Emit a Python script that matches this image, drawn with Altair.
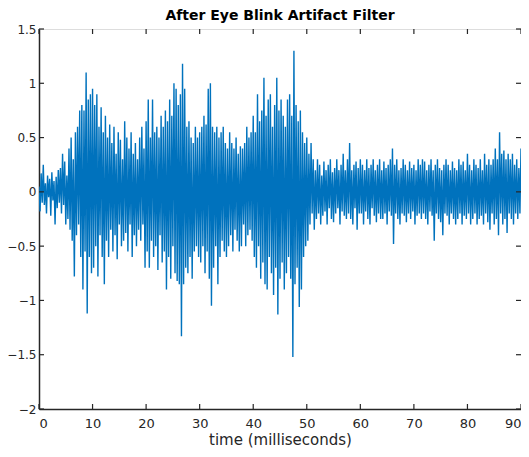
import altair as alt
import pandas as pd

# sample spacing of the recording (ms)
sample_step_ms = 0.2

# signal values, one row per 2 ms block
seg_00_10 = [
    0.05, -0.18, 0.17, -0.10, 0.25, -0.12, 0.08, -0.20, 0.15, -0.05,
    0.12, -0.22, 0.18, -0.08, 0.10, -0.30, 0.14, -0.15, 0.20, -0.10,
    0.22, -0.20, 0.35, -0.12, 0.28, -0.30, 0.15, -0.25, 0.40, -0.35,
    0.50, -0.45, 0.30, -0.78, 0.55, -0.40, 0.60, -0.30, 0.75, -0.60,
    0.80, -0.90, 0.75, -0.55, 1.10, -1.12, 0.85, -0.60, 0.90, -0.75,
]
seg_10_20 = [
    0.95, -0.70, 0.80, -0.50, 0.90, -0.78, 0.60, -0.40, 0.78, -0.60,
    0.55, -0.85, 0.70, -0.45, 0.50, -0.60, 0.62, -0.35, 0.45, -0.55,
    0.60, -0.40, 0.35, -0.62, 0.55, -0.30, 0.48, -0.50, 0.30, -0.45,
    0.65, -0.38, 0.50, -0.55, 0.40, -0.30, 0.55, -0.60, 0.35, -0.40,
    0.45, -0.50, 0.30, -0.35, 0.50, -0.45, 0.60, -0.30, 0.40, -0.70,
]
seg_20_30 = [
    0.65, -0.55, 0.85, -0.70, 0.50, -0.45, 0.85, -0.60, 0.55, -0.50,
    0.60, -0.72, 0.50, -0.40, 0.70, -0.65, 0.60, -0.55, 0.75, -0.90,
    0.65, -0.60, 0.85, -0.80, 0.70, -0.50, 1.00, -0.75, 0.95, -0.82,
    0.80, -0.85, 0.90, -1.33, 1.18, -0.85, 0.95, -0.70, 0.60, -0.75,
    0.65, -0.60, 0.50, -0.80, 0.45, -0.55, 0.60, -0.50, 0.50, -0.60,
]
seg_30_40 = [
    0.55, -0.65, 0.60, -0.50, 0.70, -0.75, 0.62, -0.55, 0.95, -0.80,
    1.00, -1.05, 0.60, -0.70, 0.55, -0.50, 0.60, -0.85, 0.50, -0.60,
    0.55, -0.45, 0.60, -0.55, 0.45, -0.60, 0.40, -0.50, 0.55, -0.40,
    0.45, -0.55, 0.40, -0.35, 0.50, -0.45, 0.35, -0.55, 0.42, -0.50,
    0.40, -0.30, 0.45, -0.50, 0.60, -0.40, 0.50, -0.35, 0.55, -0.45,
]
seg_40_50 = [
    0.70, -0.60, 0.55, -0.70, 0.90, -0.50, 0.65, -0.80, 0.75, -0.65,
    1.05, -0.85, 0.70, -0.90, 0.85, -0.60, 0.90, -0.75, 0.60, -0.95,
    0.80, -0.70, 1.05, -1.13, 0.75, -0.80, 0.85, -0.65, 0.70, -0.90,
    0.60, -0.75, 0.85, -0.60, 0.90, -0.80, 0.70, -1.52, 1.30, -0.85,
    0.80, -0.70, 0.65, -1.06, 0.75, -0.90, 0.55, -0.60, 0.45, -0.50,
]
seg_50_60 = [
    0.50, -0.45, 0.35, -0.30, 0.45, -0.20, 0.30, -0.35, 0.20, -0.25,
    0.30, -0.20, 0.25, -0.30, 0.15, -0.22, 0.28, -0.18, 0.20, -0.30,
    0.25, -0.15, 0.30, -0.25, 0.18, -0.28, 0.22, -0.20, 0.30, -0.15,
    0.20, -0.30, 0.25, -0.18, 0.35, -0.22, 0.20, -0.25, 0.30, -0.20,
    0.45, -0.25, 0.20, -0.30, 0.25, -0.15, 0.28, -0.35, 0.22, -0.20,
]
seg_60_70 = [
    0.30, -0.20, 0.25, -0.30, 0.20, -0.18, 0.30, -0.25, 0.22, -0.30,
    0.25, -0.15, 0.30, -0.22, 0.20, -0.28, 0.25, -0.20, 0.30, -0.25,
    0.20, -0.25, 0.28, -0.20, 0.22, -0.30, 0.25, -0.18, 0.30, -0.22,
    0.40, -0.48, 0.25, -0.20, 0.30, -0.25, 0.20, -0.30, 0.22, -0.20,
    0.30, -0.22, 0.25, -0.28, 0.20, -0.20, 0.28, -0.25, 0.22, -0.18,
]
seg_70_80 = [
    0.25, -0.30, 0.20, -0.22, 0.30, -0.20, 0.25, -0.25, 0.30, -0.20,
    0.28, -0.25, 0.20, -0.30, 0.25, -0.18, 0.30, -0.22, 0.20, -0.45,
    0.25, -0.20, 0.30, -0.25, 0.22, -0.28, 0.20, -0.40, 0.25, -0.20,
    0.30, -0.22, 0.25, -0.30, 0.20, -0.20, 0.28, -0.25, 0.22, -0.30,
    0.20, -0.25, 0.30, -0.20, 0.25, -0.30, 0.28, -0.22, 0.20, -0.25,
]
seg_80_90 = [
    0.35, -0.20, 0.25, -0.30, 0.20, -0.25, 0.30, -0.20, 0.25, -0.30,
    0.22, -0.25, 0.30, -0.22, 0.20, -0.30, 0.35, -0.20, 0.25, -0.28,
    0.30, -0.35, 0.25, -0.20, 0.30, -0.30, 0.40, -0.25, 0.30, -0.40,
    0.55, -0.20, 0.35, -0.30, 0.38, -0.25, 0.30, -0.38, 0.35, -0.20,
    0.30, -0.25, 0.35, -0.30, 0.25, -0.20, 0.30, -0.25, 0.22, -0.20,
    0.40,
]

x_ticks = [0, 10, 20, 30, 40, 50, 60, 70, 80, 90]
y_ticks = [-2, -1.5, -1, -0.5, 0, 0.5, 1, 1.5]

values = (seg_00_10 + seg_10_20 + seg_20_30 + seg_30_40 + seg_40_50
          + seg_50_60 + seg_60_70 + seg_70_80 + seg_80_90)
times = [round(i * sample_step_ms, 3) for i in range(len(values))]
df = pd.DataFrame({"t": times, "v": values})

W, H = 482, 380
FONT = "DejaVu Sans"
AX = "#262626"

xscale = alt.Scale(domain=[0, 90], nice=False, zero=False)
yscale = alt.Scale(domain=[-2, 1.5], nice=False, zero=False)

line = alt.Chart(df).mark_line(color="#0072BD", strokeWidth=1.4, clip=True).encode(
    x=alt.X("t:Q", scale=xscale,
            axis=alt.Axis(values=x_ticks, title="time (milliseconds)", grid=False,
                          ticks=False, domain=True, domainColor=AX, domainWidth=1.5,
                          labelFont=FONT, labelFontSize=13,
                          labelColor=AX, labelPadding=8, titleFont=FONT,
                          titleFontSize=15, titleFontWeight="normal", titleColor=AX,
                          titlePadding=2, format="d")),
    y=alt.Y("v:Q", scale=yscale,
            axis=alt.Axis(values=y_ticks, title=None, grid=False, ticks=False,
                          domain=True, domainColor=AX, domainWidth=1.5,
                          labelFont=FONT, labelFontSize=12,
                          labelColor=AX, labelPadding=3, format="~g")),
)

xt = pd.DataFrame({"x": x_ticks})
yt = pd.DataFrame({"y": y_ticks})
tick_len = 5

xt_bottom = alt.Chart(xt).mark_rule(color=AX, strokeWidth=1.2).encode(
    x=alt.X("x:Q", scale=xscale), y=alt.value(H), y2=alt.value(H - tick_len))
xt_top = alt.Chart(xt).mark_rule(color=AX, strokeWidth=1.2).encode(
    x=alt.X("x:Q", scale=xscale), y=alt.value(0), y2=alt.value(tick_len))
yt_left = alt.Chart(yt).mark_rule(color=AX, strokeWidth=1.2).encode(
    y=alt.Y("y:Q", scale=yscale), x=alt.value(0), x2=alt.value(tick_len))
yt_right = alt.Chart(yt).mark_rule(color=AX, strokeWidth=1.2).encode(
    y=alt.Y("y:Q", scale=yscale), x=alt.value(W), x2=alt.value(W - tick_len))

chart = alt.layer(line, xt_bottom, xt_top, yt_left, yt_right).properties(
    width=W, height=H,
    title=alt.TitleParams("After Eye Blink Artifact Filter", font=FONT, fontSize=14,
                          fontWeight="bold", color="black", offset=0),
    autosize=alt.AutoSizeParams(type="none"),
    padding={"left": 31, "top": 21, "right": 0, "bottom": 40},
).configure_view(stroke=AX, strokeWidth=1.5).configure(background="white")

chart.save("out.html", embed_options={"renderer": "svg", "actions": False})
